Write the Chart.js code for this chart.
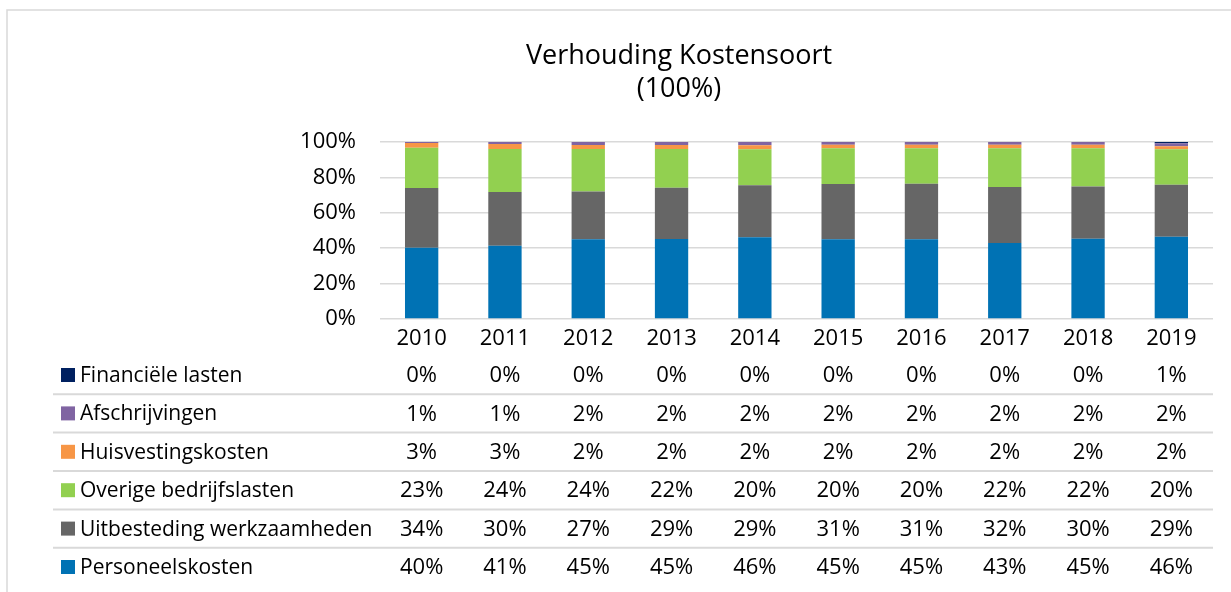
<!DOCTYPE html>
<html>
<head>
<meta charset="utf-8">
<script src="https://cdn.jsdelivr.net/npm/chart.js@4/dist/chart.umd.min.js"></script>
<style>
  html, body { margin: 0; padding: 0; background: #fff; }
  #wrap { position: relative; width: 1231px; height: 592px; }
</style>
</head>
<body>
<div id="wrap"><canvas id="kosten"></canvas></div>
<script>
const jaren = ['2010', '2011', '2012', '2013', '2014', '2015', '2016', '2017', '2018', '2019'];
const personeelskosten   = [40.2, 41.4, 45.0, 45.2, 46.2, 45.1, 45.0, 43.0, 45.3, 46.4];
const uitbesteding       = [33.8, 30.4, 27.1, 29.0, 29.3, 31.2, 31.4, 31.6, 29.6, 29.4];
const overigeLasten      = [22.8, 24.3, 23.9, 21.8, 20.4, 20.2, 20.0, 21.8, 21.6, 20.1];
const huisvesting        = [2.6, 2.8, 2.3, 2.3, 2.2, 2.0, 2.1, 2.1, 2.0, 1.7];
const afschrijvingen     = [0.6, 1.1, 1.7, 1.7, 1.9, 1.5, 1.5, 1.5, 1.5, 1.7];
const financieleLasten   = [0.0, 0.0, 0.0, 0.0, 0.0, 0.0, 0.0, 0.0, 0.0, 0.7];
const yTicks = [0, 20, 40, 60, 80, 100];

const FONT = "'Open Sans', 'Noto Sans', sans-serif";
const GRID = '#d9d9d9';

// reeksen van onder naar boven gestapeld
const reeksen = [
  { label: 'Personeelskosten', data: personeelskosten, color: '#0072b4' },
  { label: 'Uitbesteding werkzaamheden', data: uitbesteding, color: '#666666' },
  { label: 'Overige bedrijfslasten', data: overigeLasten, color: '#92d050' },
  { label: 'Huisvestingskosten', data: huisvesting, color: '#f79646' },
  { label: 'Afschrijvingen', data: afschrijvingen, color: '#8064a2' },
  { label: 'Financiële lasten', data: financieleLasten, color: '#002060' }
];

/**
 * titel, kader en gegevenstabel onder de grafiek
 */
const tabelPlugin = {
  id: 'kostenTabel',
  afterDraw(chart) {
    const ctx = chart.ctx;
    const xs = chart.scales.x;
    const area = chart.chartArea;
    ctx.save();

    // kader
    ctx.strokeStyle = GRID;
    ctx.lineWidth = 1.5;
    ctx.beginPath();
    ctx.moveTo(7, 592);
    ctx.lineTo(7, 10);
    ctx.lineTo(1231, 10);
    ctx.stroke();

    // titel
    ctx.fillStyle = '#000';
    ctx.textAlign = 'center';
    ctx.textBaseline = 'alphabetic';
    ctx.font = '27px ' + FONT;
    ctx.fillText('Verhouding Kostensoort', 679, 64);
    ctx.fillText('(100%)', 679, 97);

    // tabel
    const rijTop = 375;
    const rijH = 38.4;
    ctx.textBaseline = 'middle';
    for (let i = 0; i < reeksen.length; i++) {
      const r = reeksen[reeksen.length - 1 - i];
      const y = rijTop + i * rijH;
      ctx.fillStyle = r.color;
      ctx.fillRect(61, y - 7, 14, 14);
      ctx.fillStyle = '#000';
      ctx.textAlign = 'left';
      ctx.font = '21px ' + FONT;
      ctx.fillText(r.label, 80, y + 1);
      ctx.textAlign = 'center';
      ctx.font = '22px ' + FONT;
      r.data.forEach((v, j) => {
        ctx.fillText(Math.round(v) + '%', xs.getPixelForValue(j), y + 1);
      });
      if (i < reeksen.length - 1) {
        ctx.strokeStyle = GRID;
        ctx.lineWidth = 2;
        ctx.beginPath();
        ctx.moveTo(53, y + rijH / 2);
        ctx.lineTo(area.right, y + rijH / 2);
        ctx.stroke();
      }
    }
    ctx.restore();
  }
};

new Chart(document.getElementById('kosten'), {
  type: 'bar',
  data: {
    labels: jaren,
    datasets: reeksen.map(r => ({
      label: r.label,
      data: r.data,
      backgroundColor: r.color,
      borderWidth: 0,
      barPercentage: 0.4,
      categoryPercentage: 1
    }))
  },
  options: {
    responsive: true,
    maintainAspectRatio: false,
    animation: false,
    layout: { padding: { top: 142, right: 18, left: 0, bottom: 0 } },
    plugins: {
      legend: { display: false },
      tooltip: { enabled: false }
    },
    scales: {
      x: {
        stacked: true,
        grid: { display: false, drawTicks: false },
        border: { display: false },
        ticks: { color: '#000', font: { family: FONT, size: 22 }, padding: 7 },
        afterFit(scale) { scale.height = 273; }
      },
      y: {
        stacked: true,
        min: 0,
        max: 100,
        afterBuildTicks(scale) { scale.ticks = yTicks.map(v => ({ value: v })); },
        grid: { color: GRID, lineWidth: 1.5, drawTicks: false },
        border: { display: false },
        ticks: {
          color: '#000',
          font: { family: FONT, size: 22 },
          padding: 24,
          callback: v => v + '%'
        },
        afterFit(scale) { scale.width = 380; }
      }
    }
  },
  plugins: [tabelPlugin]
});
</script>
</body>
</html>
